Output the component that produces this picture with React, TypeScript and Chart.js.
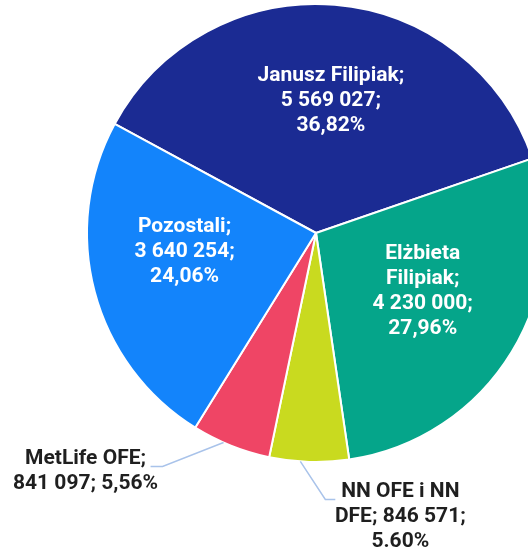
import React, { useEffect, useRef } from "react";
import { Chart, registerables } from "chart.js";

Chart.register(...registerables);

const categories = ["Janusz Filipiak", "Elżbieta Filipiak", "NN OFE i NN DFE", "MetLife OFE", "Pozostali"];
const shares = [5569027, 4230000, 846571, 841097, 3640254];
const colors = ["#1b2b93", "#05a58a", "#c9da1f", "#ef4565", "#1384fb"];
const labelLines = [
  ["Janusz Filipiak;", "5 569 027;", "36,82%"],
  ["Elżbieta", "Filipiak;", "4 230 000;", "27,96%"],
  ["NN OFE i NN", "DFE; 846 571;", "5.60%"],
  ["MetLife OFE;", "841 097; 5,56%"],
  ["Pozostali;", "3 640 254;", "24,06%"],
];

// label placement: inside (angle offset deg, radius fraction) or outside (leader)
const labelPlacement: any[] = [
  { type: "in", dAng: 1.7, r: 0.58 },
  { type: "in", dAng: -2.9, r: 0.53 },
  { type: "out", dAng: 2.2, elbow: [25, 38], run: 10, text: [65, 17.5] },
  { type: "out", dAng: 2.0, elbow: [-61, 24], run: -12, text: [-65, 5] },
  { type: "in", dAng: 6.6, r: 0.58 },
];

const FONT = "bold 21px Roboto";
const LINE_H = 25;

const labelPlugin = {
  id: "pieLabels",
  afterDatasetsDraw(chart: any) {
    const ctx = chart.ctx;
    const meta = chart.getDatasetMeta(0);
    ctx.save();
    ctx.font = FONT;
    ctx.textAlign = "center";
    ctx.textBaseline = "middle";
    meta.data.forEach((arc: any, i: number) => {
      const p = arc.getProps(["x", "y", "outerRadius", "startAngle", "endAngle"], true);
      const mid = (p.startAngle + p.endAngle) / 2;
      const pl = labelPlacement[i];
      const lines = labelLines[i];
      const a = mid + (pl.dAng * Math.PI) / 180;
      if (pl.type === "in") {
        const cx = p.x + Math.cos(a) * p.outerRadius * pl.r;
        const cy = p.y + Math.sin(a) * p.outerRadius * pl.r;
        ctx.fillStyle = "#ffffff";
        lines.forEach((t: string, k: number) => {
          ctx.fillText(t, cx, cy + (k - (lines.length - 1) / 2) * LINE_H);
        });
      } else {
        const sx = p.x + Math.cos(a) * p.outerRadius;
        const sy = p.y + Math.sin(a) * p.outerRadius;
        const ex = sx + pl.elbow[0];
        const ey = sy + pl.elbow[1];
        const fx = ex + pl.run;
        ctx.strokeStyle = "#a9c3ea";
        ctx.lineWidth = 1.5;
        ctx.beginPath();
        ctx.moveTo(sx, sy);
        ctx.lineTo(ex, ey);
        ctx.lineTo(fx, ey);
        ctx.stroke();
        const cx = fx + pl.text[0];
        const cy = ey + pl.text[1];
        ctx.fillStyle = "#1f1f1f";
        lines.forEach((t: string, k: number) => {
          ctx.fillText(t, cx, cy + (k - (lines.length - 1) / 2) * LINE_H);
        });
      }
    });
    ctx.restore();
  },
};

export default function App() {
  const ref = useRef<HTMLCanvasElement>(null);
  useEffect(() => {
    if (!ref.current) return;
    const chart = new Chart(ref.current, {
      type: "pie",
      data: {
        labels: categories,
        datasets: [
          {
            data: shares,
            backgroundColor: colors,
            borderColor: "#ffffff",
            borderWidth: 2,
          },
        ],
      },
      options: {
        responsive: false,
        animation: false,
        rotation: -61.55,
        layout: { padding: { left: 86, right: 54, top: 3, bottom: 87 } },
        plugins: {
          legend: { display: false },
          tooltip: { enabled: false },
        },
      },
      plugins: [labelPlugin],
    } as any);
    return () => chart.destroy();
  }, []);
  return (
    <div
      style={{
        position: "fixed",
        left: 0,
        top: 0,
        width: 528,
        height: 550,
        overflow: "hidden",
        background: "#ffffff",
      }}
    >
      <canvas ref={ref} width={600} height={550} style={{ display: "block" }} />
    </div>
  );
}
